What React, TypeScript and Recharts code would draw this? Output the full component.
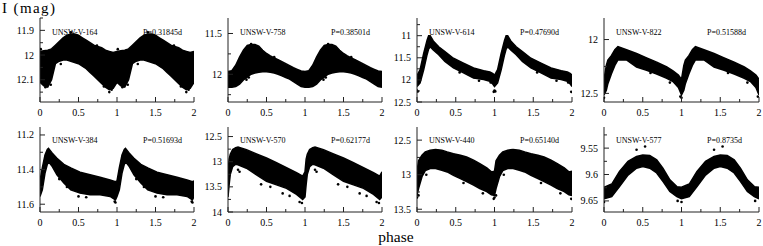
import React from 'react';
import { ComposedChart, Area, Scatter, XAxis, YAxis } from 'recharts';

const FONT = "'Liberation Serif', 'Times New Roman', Times, serif";
const FRAME = '#222';

// ---------- tick values ----------
const xTicks = [0, 0.25, 0.5, 0.75, 1, 1.25, 1.5, 1.75, 2];
const xMajors = [0, 0.5, 1, 1.5, 2];

// ---------- star labels ----------
const starNames = ['UNSW-V-164', 'UNSW-V-758', 'UNSW-V-614', 'UNSW-V-822', 'UNSW-V-384', 'UNSW-V-570', 'UNSW-V-440', 'UNSW-V-577'];
const periods = ['P=0.31845d', 'P=0.38501d', 'P=0.47690d', 'P=0.51588d', 'P=0.51693d', 'P=0.62177d', 'P=0.65140d', 'P=0.8735d'];

// ---------- light-curve envelopes (phase 0..1, bright edge / faint edge, mag) ----------
const ph164 = [0, 0.05, 0.1, 0.15, 0.2, 0.25, 0.3, 0.35, 0.4, 0.45, 0.5, 0.55, 0.6, 0.65, 0.7, 0.75, 0.8, 0.85, 0.9, 0.95, 1];
const hi164 = [11.986, 11.983, 11.98, 11.975, 11.96, 11.945, 11.93, 11.92, 11.915, 11.915, 11.92, 11.93, 11.94, 11.95, 11.96, 11.965, 11.97, 11.98, 11.985, 11.99, 11.986];
const lo164 = [12.11, 12.125, 12.13, 12.1, 12.035, 12.025, 12.02, 12.02, 12.025, 12.03, 12.035, 12.045, 12.055, 12.07, 12.085, 12.1, 12.115, 12.13, 12.14, 12.135, 12.11];

const ph758 = [0, 0.05, 0.1, 0.15, 0.2, 0.25, 0.3, 0.35, 0.4, 0.45, 0.5, 0.55, 0.6, 0.65, 0.7, 0.75, 0.8, 0.85, 0.9, 0.95, 1];
const hi758 = [11.967, 11.955, 11.89, 11.79, 11.705, 11.645, 11.635, 11.635, 11.655, 11.705, 11.745, 11.775, 11.8, 11.82, 11.845, 11.87, 11.895, 11.92, 11.94, 11.96, 11.967];
const lo758 = [12.16, 12.16, 12.15, 12.12, 12.07, 12.035, 12.0, 11.985, 11.975, 11.97, 11.97, 11.975, 11.985, 12.0, 12.02, 12.04, 12.06, 12.09, 12.12, 12.15, 12.16];

const ph614 = [0, 0.04, 0.086, 0.13, 0.15, 0.17, 0.21, 0.28, 0.36, 0.47, 0.6, 0.73, 0.86, 0.94, 0.98, 1];
const hi614 = [11.9, 11.77, 11.4, 11.1, 11.0, 11.0, 11.12, 11.25, 11.36, 11.51, 11.62, 11.73, 11.79, 11.82, 11.86, 11.9];
const lo614 = [12.15, 12.07, 11.77, 11.43, 11.3, 11.25, 11.32, 11.43, 11.58, 11.73, 11.84, 11.96, 11.99, 12.03, 12.1, 12.15];

const ph822 = [0, 0.03, 0.05, 0.095, 0.14, 0.18, 0.29, 0.42, 0.55, 0.68, 0.81, 0.89, 0.96, 1];
const hi822 = [12.37, 12.24, 12.19, 12.15, 12.095, 12.065, 12.095, 12.13, 12.17, 12.21, 12.255, 12.29, 12.33, 12.37];
const lo822 = [12.515, 12.47, 12.41, 12.32, 12.24, 12.19, 12.19, 12.255, 12.285, 12.32, 12.36, 12.39, 12.445, 12.515];

const ph384 = [0, 0.03, 0.065, 0.095, 0.11, 0.16, 0.22, 0.31, 0.4, 0.52, 0.65, 0.78, 0.91, 0.98, 1];
const hi384 = [11.465, 11.39, 11.315, 11.283, 11.277, 11.305, 11.335, 11.37, 11.39, 11.415, 11.43, 11.444, 11.46, 11.47, 11.465];
const lo384 = [11.555, 11.517, 11.42, 11.37, 11.354, 11.383, 11.43, 11.478, 11.517, 11.536, 11.546, 11.546, 11.555, 11.575, 11.555];

const ph570 = [0, 0.015, 0.03, 0.06, 0.1, 0.13, 0.24, 0.37, 0.5, 0.63, 0.76, 0.89, 0.97, 1];
const hi570 = [13.2, 12.95, 12.85, 12.76, 12.72, 12.71, 12.76, 12.845, 12.925, 13.02, 13.12, 13.22, 13.285, 13.2];
const lo570 = [13.7, 13.45, 13.25, 13.1, 13.05, 13.06, 13.13, 13.26, 13.39, 13.46, 13.53, 13.65, 13.75, 13.7];

const ph440 = [0, 0.02, 0.064, 0.107, 0.17, 0.24, 0.32, 0.39, 0.47, 0.56, 0.64, 0.73, 0.81, 0.9, 0.96, 1];
const hi440 = [12.95, 12.8, 12.72, 12.67, 12.645, 12.635, 12.645, 12.67, 12.695, 12.72, 12.745, 12.79, 12.84, 12.9, 12.96, 12.95];
const lo440 = [13.3, 13.2, 13.03, 12.94, 12.91, 12.91, 12.935, 12.96, 13.01, 13.055, 13.1, 13.15, 13.2, 13.245, 13.29, 13.3];

const ph577 = [0, 0.1, 0.2, 0.31, 0.42, 0.5, 0.59, 0.68, 0.76, 0.85, 0.94, 1];
const hi577 = [9.624, 9.618, 9.594, 9.575, 9.566, 9.563, 9.564, 9.572, 9.588, 9.61, 9.623, 9.624];
const lo577 = [9.646, 9.642, 9.623, 9.601, 9.588, 9.585, 9.588, 9.597, 9.613, 9.632, 9.642, 9.646];

// ---------- scattered points outside the main band (phase, mag) ----------
const out164: [number, number][] = [[0.07, 12.13], [0.14, 12.12], [0.83, 12.127], [0.93, 12.14], [0.4, 11.908], [0.01, 11.976], [0.74, 11.962], [0.7, 12.05], [0.72, 12.07], [0.27, 12.036], [0.9, 12.15]];
const out758: [number, number][] = [[0.24, 12.066], [0.27, 12.04], [0.3, 11.63], [0.6, 11.79]];
const out614: [number, number][] = [[0.0, 12.24], [0.01, 12.26], [0.99, 12.27], [0.95, 12.06], [0.55, 11.83], [0.8, 12.02]];
const out822: [number, number][] = [[0.0, 12.54], [0.985, 12.53], [0.6, 12.31], [0.85, 12.4]];
const out384: [number, number][] = [[0.98, 11.59], [0.5, 11.555], [0.6, 11.56], [0.97, 11.585], [0.25, 11.455], [0.35, 11.5]];
const out570: [number, number][] = [[0.71, 13.63], [0.8, 13.68], [0.93, 13.8], [0.96, 13.82], [0.43, 13.45], [0.13, 13.16], [0.15, 13.2], [0.55, 13.5]];
const out440: [number, number][] = [[0.0, 13.33], [0.99, 13.35], [0.85, 13.27], [0.12, 13.0], [0.02, 13.3], [0.6, 13.12]];
const out577: [number, number][] = [[0.42, 9.553], [0.53, 9.547], [0.0, 9.652], [0.95, 9.65]];

// ---------- y ticks ----------
const yT164 = [11.85, 11.9, 11.95, 12, 12.05, 12.1, 12.15];
const yM164 = [11.9, 12, 12.1];
const yT758 = [11.5, 11.75, 12, 12.25];
const yM758 = [11.5, 12];
const yT614 = [10.75, 11, 11.25, 11.5, 11.75, 12, 12.25, 12.5];
const yM614 = [11, 11.5, 12, 12.5];
const yT822 = [12, 12.25, 12.5];
const yM822 = [12, 12.5];
const yT384 = [11.2, 11.3, 11.4, 11.5, 11.6];
const yM384 = [11.2, 11.4, 11.6];
const yT570 = [12.5, 12.75, 13, 13.25, 13.5, 13.75, 14];
const yM570 = [12.5, 13, 13.5, 14];
const yT440 = [12.5, 12.75, 13, 13.25, 13.5];
const yM440 = [12.5, 13, 13.5];
const yT577 = [9.525, 9.55, 9.575, 9.6, 9.625, 9.65];
const yM577 = [9.55, 9.6, 9.65];

// ---------- helpers to build the two-cycle tables ----------
function bandTable(ph: number[], hi: number[], lo: number[]) {
  const rows: { phase: number; band: [number, number] }[] = [];
  ph.forEach((p, i) => rows.push({ phase: p, band: [hi[i], lo[i]] }));
  ph.forEach((p, i) => {
    if (i > 0) rows.push({ phase: p + 1, band: [hi[i], lo[i]] });
  });
  return rows;
}
function dotTable(pts: [number, number][]) {
  const rows: { phase: number; mag: number }[] = [];
  pts.forEach(([p, m]) => {
    rows.push({ phase: p, mag: m });
    if (p + 1 <= 2) rows.push({ phase: p + 1, mag: m });
  });
  return rows;
}

const isMajor = (v: number, majors: number[]) => majors.some((m) => Math.abs(m - v) < 1e-9);

// ---------- layout ----------
const colLeft = [40, 228, 417, 604];
const colWidth = [154, 154, 155, 155];
const rowTop = [18, 127];
const rowHeight = [84, 85];

const panels = [
  { band: bandTable(ph164, hi164, lo164), dots: dotTable(out164), domain: [11.85, 12.19], yTicks: yT164, yMajors: yM164 },
  { band: bandTable(ph758, hi758, lo758), dots: dotTable(out758), domain: [11.31, 12.34], yTicks: yT758, yMajors: yM758 },
  { band: bandTable(ph614, hi614, lo614), dots: dotTable(out614), domain: [10.6, 12.5], yTicks: yT614, yMajors: yM614 },
  { band: bandTable(ph822, hi822, lo822), dots: dotTable(out822), domain: [11.8, 12.58], yTicks: yT822, yMajors: yM822 },
  { band: bandTable(ph384, hi384, lo384), dots: dotTable(out384), domain: [11.154, 11.645], yTicks: yT384, yMajors: yM384 },
  { band: bandTable(ph570, hi570, lo570), dots: dotTable(out570), domain: [12.31, 14], yTicks: yT570, yMajors: yM570 },
  { band: bandTable(ph440, hi440, lo440), dots: dotTable(out440), domain: [12.31, 13.54], yTicks: yT440, yMajors: yM440 },
  { band: bandTable(ph577, hi577, lo577), dots: dotTable(out577), domain: [9.51, 9.671], yTicks: yT577, yMajors: yM577 },
];

const MAJ = 5;
const MIN = 3;
const textStyle = { fontFamily: FONT };

const dotShape = (p: any) => <circle cx={p.cx} cy={p.cy} r={1.3} fill="#000" />;

function Panel({ idx }: { idx: number }) {
  const spec = panels[idx];
  const col = idx % 4;
  const row = Math.floor(idx / 4);
  const left = colLeft[col];
  const top = rowTop[row];
  const w = colWidth[col];
  const h = rowHeight[row];

  const bottomTick = (props: any) => {
    const { x, y, payload } = props;
    const major = isMajor(payload.value, xMajors);
    return (
      <g>
        <line x1={x} x2={x} y1={y} y2={y - (major ? MAJ : MIN)} stroke={FRAME} />
        {major && (
          <text x={x} y={y + 13.5} textAnchor="middle" fontSize={10} style={textStyle} fill="#000">
            {String(payload.value)}
          </text>
        )}
      </g>
    );
  };
  const topTick = (props: any) => {
    const { x, y, payload } = props;
    const major = isMajor(payload.value, xMajors);
    return <line x1={x} x2={x} y1={y} y2={y + (major ? MAJ : MIN)} stroke={FRAME} />;
  };
  const leftTick = (props: any) => {
    const { x, y, payload } = props;
    const major = isMajor(payload.value, spec.yMajors);
    return (
      <g>
        <line x1={x} x2={x + (major ? MAJ : MIN)} y1={y} y2={y} stroke={FRAME} />
        {major && (
          <text x={x - 6} y={y} dy="0.35em" textAnchor="end" fontSize={10} style={textStyle} fill="#000">
            {String(payload.value)}
          </text>
        )}
      </g>
    );
  };
  const rightTick = (props: any) => {
    const { x, y, payload } = props;
    const major = isMajor(payload.value, spec.yMajors);
    return <line x1={x} x2={x - (major ? MAJ : MIN)} y1={y} y2={y} stroke={FRAME} />;
  };

  return (
    <div style={{ position: 'absolute', left: left - 40, top: top - 5 }}>
      <ComposedChart width={w + 45} height={h + 25} data={spec.band} margin={{ top: 5, right: 5, bottom: 0, left: 0 }}>
        <XAxis xAxisId="b" dataKey="phase" type="number" domain={[0, 2]} ticks={xTicks} interval={0} tickSize={0} tickMargin={0} tickLine={false} axisLine={{ stroke: FRAME }} height={20} tick={bottomTick} allowDataOverflow />
        <XAxis xAxisId="t" orientation="top" dataKey="phase" type="number" domain={[0, 2]} ticks={xTicks} interval={0} tickSize={0} tickMargin={0} tickLine={false} axisLine={{ stroke: FRAME }} height={0} tick={topTick} allowDataOverflow />
        <YAxis yAxisId="l" type="number" domain={spec.domain} reversed ticks={spec.yTicks} interval={0} tickSize={0} tickMargin={0} tickLine={false} axisLine={{ stroke: FRAME }} width={40} tick={leftTick} allowDataOverflow />
        <YAxis yAxisId="r" orientation="right" type="number" domain={spec.domain} reversed ticks={spec.yTicks} interval={0} tickSize={0} tickMargin={0} tickLine={false} axisLine={{ stroke: FRAME }} width={0} tick={rightTick} allowDataOverflow />
        <Area xAxisId="b" yAxisId="l" dataKey="band" type="linear" fill="#000" fillOpacity={1} stroke="#000" strokeWidth={1.5} dot={false} activeDot={false} isAnimationActive={false} />
        <Scatter xAxisId="b" yAxisId="l" data={spec.dots} dataKey="mag" shape={dotShape} isAnimationActive={false} />
      </ComposedChart>
    </div>
  );
}

export default function App() {
  return (
    <div style={{ position: 'absolute', left: 0, top: 0, width: 763, height: 246, background: '#fff', overflow: 'hidden' }}>
      {panels.map((_, i) => (
        <Panel key={i} idx={i} />
      ))}
      <svg width={763} height={246} style={{ position: 'absolute', left: 0, top: 0, pointerEvents: 'none' }}>
        <text x={2} y={12.5} fontSize={15} style={textStyle} fill="#000" textLength={53} lengthAdjust="spacing">
          I (mag)
        </text>
        <text x={396} y={242} fontSize={15.5} style={textStyle} fill="#000" textAnchor="middle">
          phase
        </text>
        {starNames.map((n, i) => {
          const col = i % 4;
          const row = Math.floor(i / 4);
          const base = row === 0 ? 35.3 : 142.7;
          return (
            <g key={n}>
              <text x={colLeft[col] + 12} y={base} fontSize={8} style={textStyle} fill="#000">
                {n}
              </text>
              <text x={colLeft[col] + 103} y={base} fontSize={8} style={textStyle} fill="#000">
                {periods[i]}
              </text>
            </g>
          );
        })}
      </svg>
    </div>
  );
}
